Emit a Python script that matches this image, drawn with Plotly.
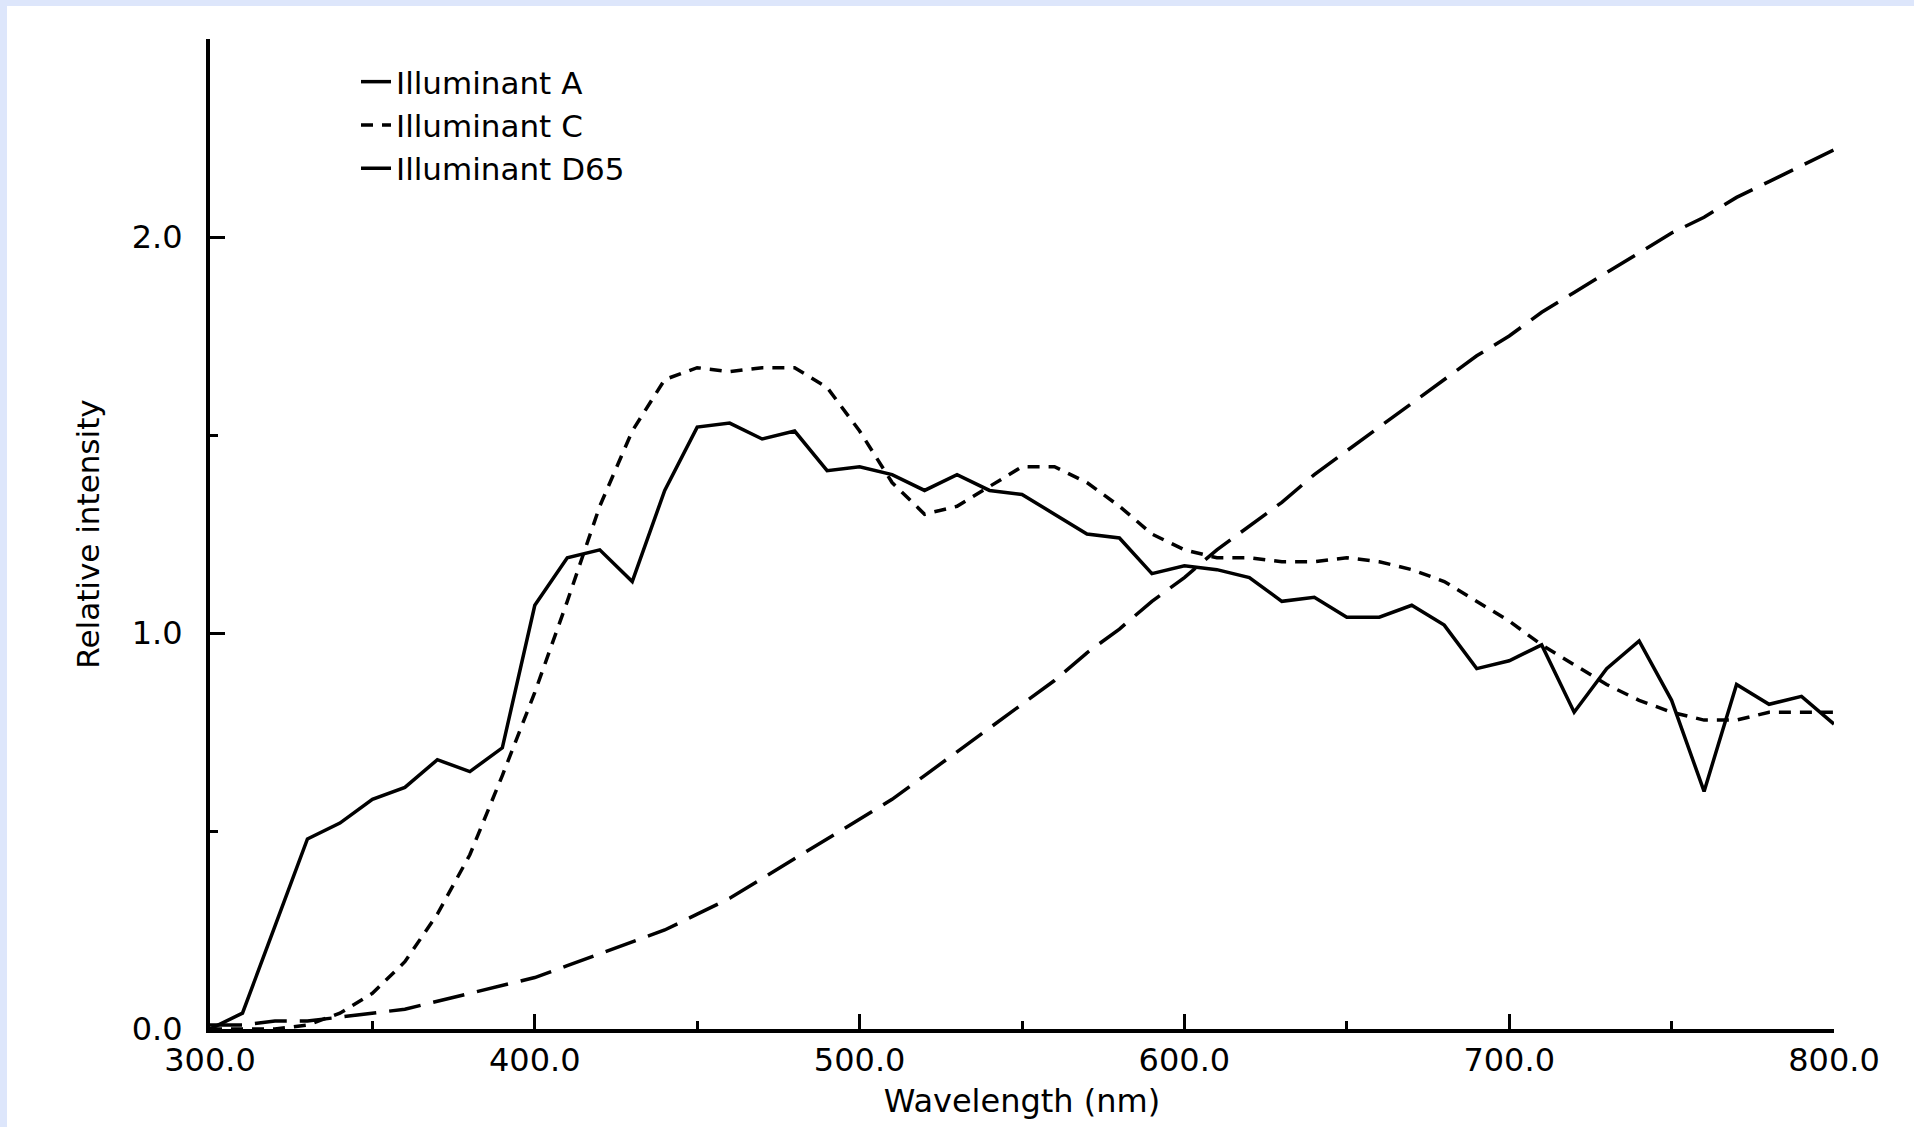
import plotly.graph_objects as go

wavelength = [300, 310, 320, 330, 340, 350, 360, 370, 380, 390,
              400, 410, 420, 430, 440, 450, 460, 470, 480, 490,
              500, 510, 520, 530, 540, 550, 560, 570, 580, 590,
              600, 610, 620, 630, 640, 650, 660, 670, 680, 690,
              700, 710, 720, 730, 740, 750, 760, 770, 780, 790, 800]

illuminant_a = [0.01, 0.01, 0.02, 0.02, 0.03, 0.04, 0.05, 0.07, 0.09, 0.11,
                0.13, 0.16, 0.19, 0.22, 0.25, 0.29, 0.33, 0.38, 0.43, 0.48,
                0.53, 0.58, 0.64, 0.70, 0.76, 0.82, 0.88, 0.95, 1.01, 1.08,
                1.14, 1.21, 1.27, 1.33, 1.40, 1.46, 1.52, 1.58, 1.64, 1.70,
                1.75, 1.81, 1.86, 1.91, 1.96, 2.01, 2.05, 2.10, 2.14, 2.18, 2.22]

illuminant_c = [0.00, 0.00, 0.00, 0.01, 0.04, 0.09, 0.17, 0.29, 0.44, 0.64,
                0.85, 1.08, 1.32, 1.51, 1.64, 1.67, 1.66, 1.67, 1.67, 1.62,
                1.51, 1.38, 1.30, 1.32, 1.37, 1.42, 1.42, 1.38, 1.32, 1.25,
                1.21, 1.19, 1.19, 1.18, 1.18, 1.19, 1.18, 1.16, 1.13, 1.08,
                1.03, 0.97, 0.92, 0.87, 0.83, 0.80, 0.78, 0.78, 0.80, 0.80, 0.80]

illuminant_d65 = [0.00, 0.04, 0.26, 0.48, 0.52, 0.58, 0.61, 0.68, 0.65, 0.71,
                  1.07, 1.19, 1.21, 1.13, 1.36, 1.52, 1.53, 1.49, 1.51, 1.41,
                  1.42, 1.40, 1.36, 1.40, 1.36, 1.35, 1.30, 1.25, 1.24, 1.15,
                  1.17, 1.16, 1.14, 1.08, 1.09, 1.04, 1.04, 1.07, 1.02, 0.91,
                  0.93, 0.97, 0.80, 0.91, 0.98, 0.83, 0.60, 0.87, 0.82, 0.84, 0.77]

series_names = ["Illuminant A", "Illuminant C", "Illuminant D65"]
x_tick_values = [300, 400, 500, 600, 700, 800]
y_tick_values = [0, 1, 2]

W, H = 1914, 1127
ML, MR, MT, MB = 210, 80, 39, 98
PW, PH = W - ML - MR, H - MT - MB
FONT = "DejaVu Sans"
FRAME = "#dde6fb"

fig = go.Figure()
styles = [dict(dash="32px,13px"), dict(dash="12px,9px"), dict(dash="solid")]
for name, ys, st in zip(series_names, [illuminant_a, illuminant_c, illuminant_d65], styles):
    fig.add_trace(go.Scatter(x=wavelength, y=ys, mode="lines", name=name,
                             line=dict(color="black", width=3.5, dash=st["dash"])))

axis_common = dict(showgrid=False, zeroline=False, showline=True, linecolor="black",
                   linewidth=4, ticks="inside", tickcolor="black", tickwidth=3,
                   ticklen=15, tickformat=".1f",
                   tickfont=dict(family=FONT, size=32, color="black"))

fig.update_xaxes(range=[300, 800], tickvals=x_tick_values,
                 minor=dict(dtick=50, ticks="inside", ticklen=8, tickwidth=3, tickcolor="black"),
                 title=dict(text="Wavelength (nm)", font=dict(family=FONT, size=32, color="black"), standoff=12),
                 ticklabelstandoff=0,
                 **axis_common)
fig.update_yaxes(range=[0, 2.5], tickvals=y_tick_values,
                 minor=dict(dtick=0.5, ticks="inside", ticklen=8, tickwidth=3, tickcolor="black"),
                 title=dict(text="Relative intensity", font=dict(family=FONT, size=31, color="black"), standoff=24),
                 ticklabelstandoff=17,
                 **axis_common)

# light blue frame bands (top and left)
fig.add_shape(type="rect", xref="paper", yref="paper", layer="below",
              x0=-ML / PW, x1=(W - ML) / PW, y0=(PH + MT - 6) / PH, y1=(PH + MT) / PH,
              fillcolor=FRAME, line=dict(width=0))
fig.add_shape(type="rect", xref="paper", yref="paper", layer="below",
              x0=-ML / PW, x1=(7 - ML) / PW, y0=-MB / PH, y1=(PH + MT) / PH,
              fillcolor=FRAME, line=dict(width=0))

fig.update_layout(
    width=W, height=H,
    margin=dict(l=ML, r=MR, t=MT, b=MB),
    paper_bgcolor="white", plot_bgcolor="white",
    showlegend=True,
    legend=dict(x=(356 - ML) / PW, y=(PH + MT - 55) / PH, xanchor="left", yanchor="top",
                bgcolor="rgba(0,0,0,0)", font=dict(family=FONT, size=31, color="black"),
                itemwidth=30, tracegroupgap=0),
)

fig.write_html("out.html")
